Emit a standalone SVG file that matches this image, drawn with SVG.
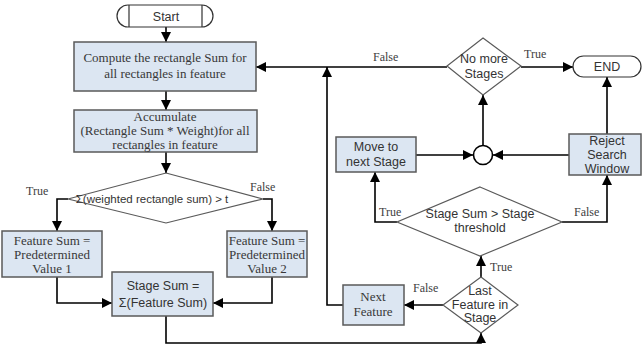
<svg xmlns="http://www.w3.org/2000/svg" width="642" height="356" viewBox="0 0 642 356">
<defs>
<marker id="ah" viewBox="0 0 10 10" refX="10" refY="5" markerWidth="10" markerHeight="10" markerUnits="userSpaceOnUse" orient="auto">
<path d="M0,0 L10,5 L0,10 z" fill="#000"/>
</marker>
<style>
.box{fill:#dce6f2;stroke:#5a5a5a;stroke-width:1.5}
.dia{fill:#fff;stroke:#5a5a5a;stroke-width:1.2}
.term{fill:#fff;stroke:#333;stroke-width:1.2}
.ln{fill:none;stroke:#000;stroke-width:1.6}
.arr{fill:none;stroke:#000;stroke-width:1.6;marker-end:url(#ah)}
.sf{font-family:"Liberation Serif","DejaVu Serif",serif;font-size:13px;fill:#383838;text-anchor:middle}
.ss{font-family:"Liberation Sans",Arial,sans-serif;font-size:12.5px;fill:#333;text-anchor:middle}
.lb{font-family:"Liberation Serif","DejaVu Serif",serif;font-size:12px;fill:#404040}
</style>
</defs>
<rect width="642" height="356" fill="#fff"/>

<g id="connectors">
<path class="arr" d="M166,27 V42"/>
<path class="arr" d="M166,91 V110"/>
<path class="arr" d="M166,152 V173"/>
<path class="arr" d="M68,199 H57 V231"/>
<path class="arr" d="M263,199 H272 V231"/>
<path class="arr" d="M57,277 V303 H112"/>
<path class="arr" d="M272,277 V303 H213"/>
<path class="arr" d="M166,316 V343 H481 V333"/>
<path class="arr" d="M447,67 H256"/>
<path class="arr" d="M343,305 H327 V67"/>
<path class="arr" d="M521,67 H573"/>
<path class="arr" d="M483,146 V95"/>
<path class="arr" d="M416,155 H473"/>
<path class="arr" d="M569,155 H493"/>
<path class="arr" d="M607,134 V77"/>
<path class="arr" d="M397,222 H375 V172"/>
<path class="arr" d="M562,222 H607 V175"/>
<path class="arr" d="M481,277 V256"/>
<path class="arr" d="M443,305 H404"/>
<text class="lb" x="26" y="195">True</text>
<text class="lb" x="250" y="191">False</text>
<text class="lb" x="373" y="61">False</text>
<text class="lb" x="524" y="58">True</text>
<text class="lb" x="379" y="216">True</text>
<text class="lb" x="574" y="216">False</text>
<text class="lb" x="490" y="271">True</text>
<text class="lb" x="413" y="292">False</text>
</g>

<g id="start">
<rect class="term" x="117" y="5" width="96" height="22" rx="11"/>
<path d="M129,5 V27 M202,5 V27" stroke="#333" stroke-width="1.2"/>
<text class="ss" x="166" y="21">Start</text>
</g>

<g id="compute">
<rect class="box" x="74" y="42" width="182" height="49"/>
<text class="sf" x="165" y="62">Compute the rectangle Sum for</text>
<text class="sf" x="165" y="78">all rectangles in feature</text>
</g>

<g id="accumulate">
<rect class="box" x="74" y="110" width="183" height="42"/>
<text class="sf" x="165" y="121">Accumulate</text>
<text class="sf" x="165" y="135">(Rectangle Sum * Weight)for all</text>
<text class="sf" x="165" y="149">rectangles in feature</text>
</g>

<g id="weighted">
<polygon class="dia" points="166,173 263,199 166,223 68,199"/>
<text class="ss" x="152" y="203" style="font-size:11.5px">Σ(weighted rectangle sum) &gt; t</text>
</g>

<g id="feature1">
<rect class="box" x="2" y="231" width="100" height="46"/>
<text class="sf" x="52" y="245">Feature Sum =</text>
<text class="sf" x="52" y="259">Predetermined</text>
<text class="sf" x="52" y="273">Value 1</text>
</g>

<g id="feature2">
<rect class="box" x="227" y="231" width="80" height="46"/>
<text class="sf" x="267" y="245">Feature Sum =</text>
<text class="sf" x="267" y="259">Predetermined</text>
<text class="sf" x="267" y="273">Value 2</text>
</g>

<g id="stagesum">
<rect class="box" x="112" y="272" width="101" height="44"/>
<text class="ss" x="163" y="290">Stage Sum =</text>
<text class="ss" x="163" y="307">Σ(Feature Sum)</text>
</g>

<g id="nomore">
<polygon class="dia" points="483,38 521,66 483,95 447,66"/>
<text class="ss" x="484" y="63">No more</text>
<text class="ss" x="484" y="78">Stages</text>
</g>

<g id="end">
<rect class="term" x="573" y="56" width="68" height="21" rx="10.5"/>
<text class="ss" x="607" y="71">END</text>
</g>

<g id="junction">
<circle cx="483" cy="155" r="9.5" fill="#fff" stroke="#000" stroke-width="1.6"/>
</g>

<g id="movenext">
<rect class="box" x="336" y="137" width="80" height="35"/>
<text class="ss" x="376" y="151">Move to</text>
<text class="ss" x="376" y="166">next Stage</text>
</g>

<g id="reject">
<rect class="box" x="569" y="134" width="72" height="41"/>
<text class="ss" x="607" y="145">Reject</text>
<text class="ss" x="607" y="159">Search</text>
<text class="ss" x="607" y="173">Window</text>
</g>

<g id="stagethreshold">
<polygon class="dia" points="480,187 562,222 480,256 397,222"/>
<text class="ss" x="480" y="218">Stage Sum &gt; Stage</text>
<text class="ss" x="480" y="232">threshold</text>
</g>

<g id="lastfeature">
<polygon class="dia" points="481,277 518,305 481,333 443,305"/>
<text class="ss" x="480" y="295">Last</text>
<text class="ss" x="480" y="309">Feature in</text>
<text class="ss" x="480" y="322">Stage</text>
</g>

<g id="nextfeature">
<rect class="box" x="343" y="285" width="61" height="40"/>
<text class="sf" x="373" y="301">Next</text>
<text class="sf" x="373" y="316">Feature</text>
</g>
</svg>
